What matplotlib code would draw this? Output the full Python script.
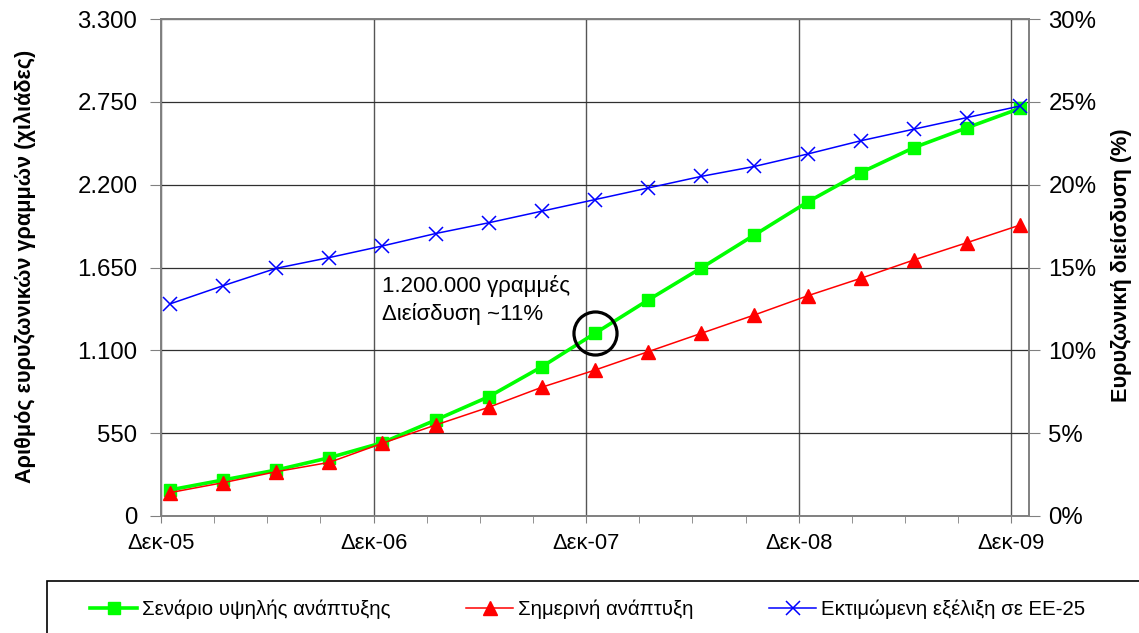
from matplotlib import pyplot as plt
from matplotlib.patches import Rectangle
from matplotlib.ticker import FuncFormatter, MultipleLocator

plt.rcParams['font.family'] = ['Liberation Sans', 'DejaVu Sans']

# quarterly points, Dec-05 .. Dec-09 (months since Dec-05, mid-month)
months = [0.5 + 3 * i for i in range(17)]
year_ticks = [0, 12, 24, 36, 48]
year_labels = ['Δεκ-05', 'Δεκ-06', 'Δεκ-07', 'Δεκ-08', 'Δεκ-09']

# thousands of lines
high_growth = [173, 239, 305, 387, 487, 637, 792, 991, 1213, 1434, 1647, 1866,
               2085, 2280, 2446, 2578, 2707]
current_growth = [155, 221, 294, 356, 483, 604, 722, 855, 969, 1091, 1213, 1335,
                  1462, 1578, 1700, 1815, 1932]
# penetration, %
eu25 = [12.8, 13.9, 14.95, 15.6, 16.3, 17.05, 17.7, 18.4, 19.1, 19.8, 20.5, 21.1,
        21.85, 22.65, 23.35, 24.05, 24.75]

label_high = 'Σενάριο υψηλής ανάπτυξης'
label_current = 'Σημερινή ανάπτυξη'
label_eu = 'Εκτιμώμενη εξέλιξη σε ΕΕ-25'

W, H = 1139, 633
fig = plt.figure(figsize=(W / 100, H / 100), dpi=100)
ax = fig.add_axes([161 / W, 1 - 516 / H, (1029 - 161) / W, (516 - 19) / H])
ax2 = ax.twinx()

ax.set_xlim(0, 49)
ax.set_ylim(0, 3300)
ax2.set_ylim(0, 30)

l1, = ax.plot(months, high_growth, color='#00ff00', lw=2.6, marker='s', ms=8.5,
              label=label_high, zorder=3)
l2, = ax.plot(months, current_growth, color='#ff0000', lw=1.1, marker='^', ms=10,
              label=label_current, zorder=4)
l3, = ax2.plot(months, eu25, color='#0000ff', lw=1.1, marker='x', ms=10, mew=1.1,
               label=label_eu, zorder=5)

# highlighted point Dec-07
ax.plot(months[8], high_growth[8], marker='o', ms=31, mfc='none', mec='black',
        mew=2.3, zorder=6)
ax.annotate('1.200.000 γραμμές\nΔιείσδυση ~11%', xy=(months[8], high_growth[8]),
            xytext=(-213, 33), textcoords='offset pixels', ha='left', va='center',
            fontsize=16, linespacing=1.35)

ax.set_xticks(year_ticks)
ax.set_xticklabels(year_labels)
ax.xaxis.set_minor_locator(MultipleLocator(3))
ax.set_yticks(range(0, 3301, 550))
ax.yaxis.set_major_formatter(FuncFormatter(lambda v, p: f'{int(v):,}'.replace(',', '.')))
ax2.set_yticks(range(0, 31, 5))
ax2.yaxis.set_major_formatter(FuncFormatter(lambda v, p: f'{v:.0f}%'))

ax.grid(True, which='major', axis='y', color='#303030', lw=0.9)
ax.grid(True, which='major', axis='x', color='#555555', lw=1.0)
ax.set_axisbelow(True)
ax.tick_params(axis='x', which='both', direction='out', length=5, color='#808080',
               labelsize=15.8, pad=7)
ax.tick_params(axis='y', direction='out', length=8, color='#808080', labelsize=17.3, pad=9)
ax2.tick_params(axis='y', direction='out', length=8, color='#808080', labelsize=17.3, pad=6)
for a in (ax, ax2):
    for s in a.spines.values():
        s.set_color('#808080')
        s.set_linewidth(1.2)

fig.text(25 / W, 1 - 266 / H, 'Αριθμός ευρυζωνικών γραμμών (χιλιάδες)', rotation=90,
         ha='center', va='center', fontsize=15.6, fontweight='bold')
fig.text(1122 / W, 1 - 265 / H, 'Ευρυζωνική διείσδυση (%)', rotation=90,
         ha='center', va='center', fontsize=15.6, fontweight='bold')

# legend box (runs off the right and bottom edge)
fig.patches.append(Rectangle((47 / W, -0.1), 1.2, 0.1 + (H - 581) / H,
                             transform=fig.transFigure, fill=False, ec='black', lw=1.2))
fig.legend(handles=[l1, l2, l3], loc='center left', ncol=3,
           bbox_to_anchor=(82 / W, 1 - 609 / H), frameon=False, fontsize=14.7,
           handlelength=2.3, handletextpad=0.25, columnspacing=3.7, borderaxespad=0)

fig.savefig('out.png', dpi=100)
